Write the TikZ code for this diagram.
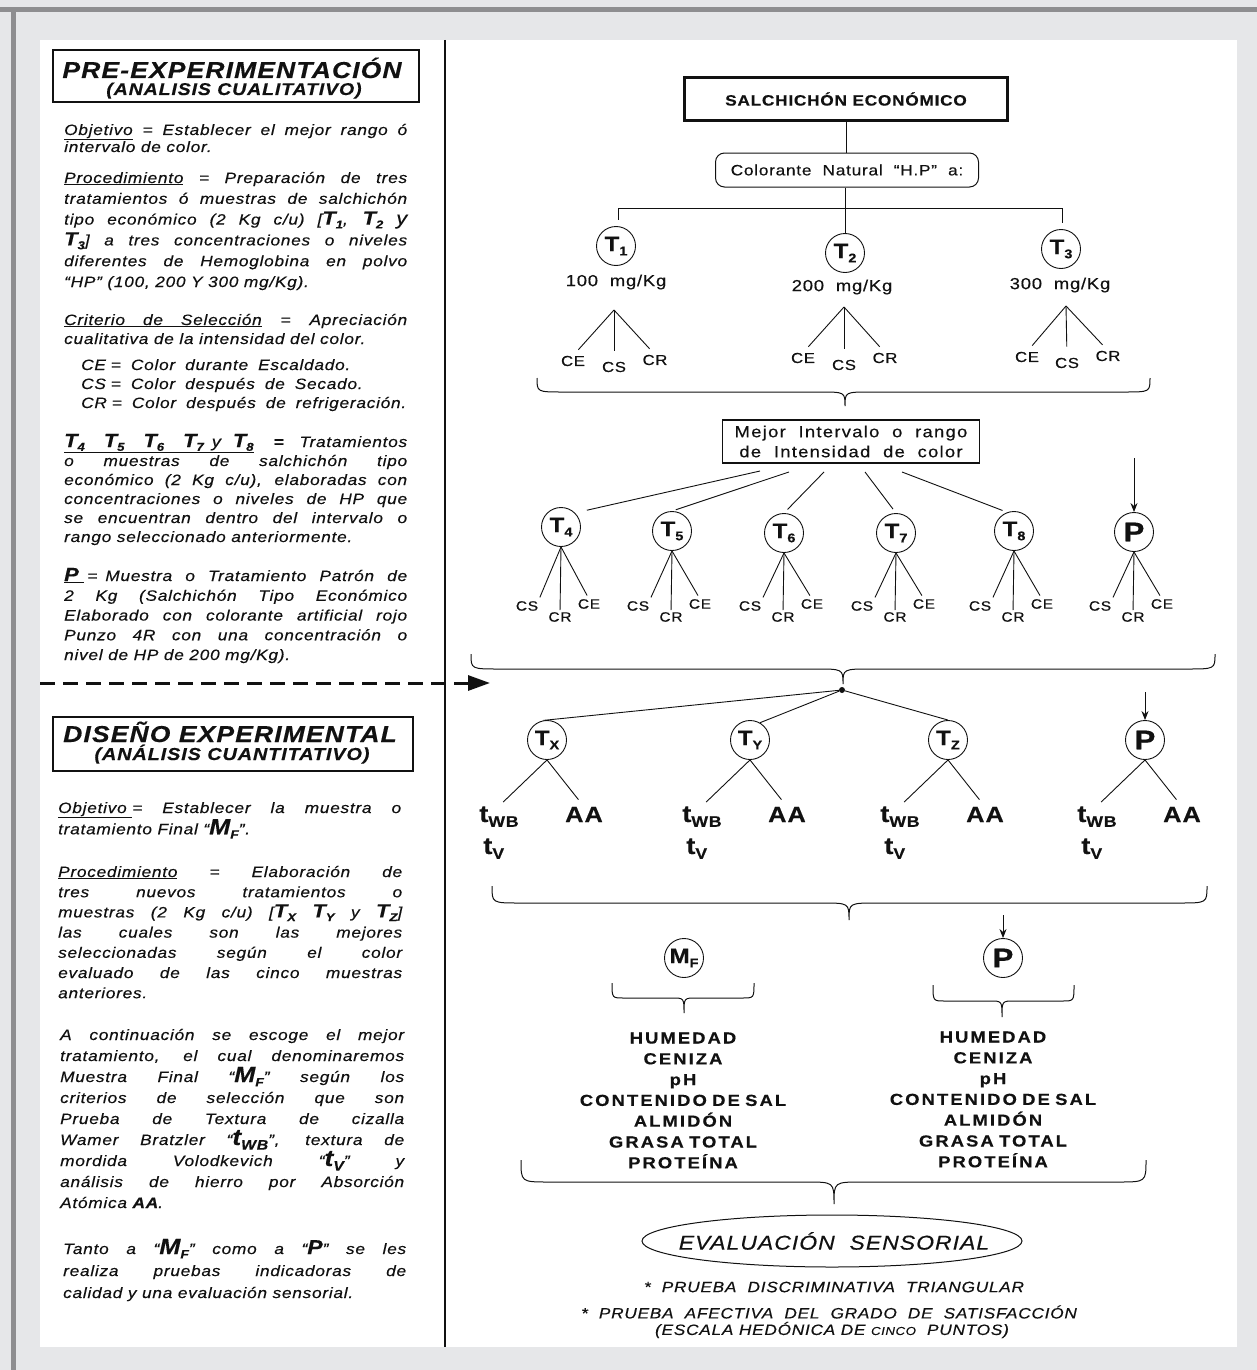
\documentclass[tikz,border=0pt]{standalone}
\usepackage{fontspec}
\setmainfont{Liberation Sans}[FakeStretch=1.15,LetterSpace=5,FakeBold=0.35]
\usepackage{graphicx}
\usetikzlibrary{arrows.meta,shapes.geometric}
\definecolor{ink}{HTML}{111111}
\definecolor{bggray}{HTML}{E6E7E9}
\definecolor{edgegray}{HTML}{8E8E90}
\newcommand\fs[2]{\fontsize{#1}{#2}\selectfont}
\newcommand\dn[2][0.6]{\raisebox{-0.2em}{\scalebox{#1}{#2}}}
\newcommand\BT[1]{{\bfseries\fs{19}{19}T\dn{#1}}}
\newcommand\MF{{\bfseries\fs{22}{22}M\dn[0.55]{F}}}
\newcommand\tWB{{\bfseries\fs{23}{23}t\dn[0.6]{WB}}}
\newcommand\tV{{\bfseries\fs{23}{23}t\dn[0.6]{V}}}
\newcommand\tWBr{{\bfseries\fs{24}{24}t\dn[0.64]{WB}}}
\newcommand\tVr{{\bfseries\fs{24}{24}t\dn[0.64]{V}}}
\newcommand\hbr[6]{% x1,x2,xm,y0,a,c
  \draw[brc] (#1,#4) .. controls (#1,#4+#5) .. (#1+#6,#4+#5) -- (#3-#6,#4+#5) .. controls (#3,#4+#5) .. (#3,#4+2*#5) .. controls (#3,#4+#5) .. (#3+#6,#4+#5) -- (#2-#6,#4+#5) .. controls (#2,#4+#5) .. (#2,#4);}
\setlength{\lineskiplimit}{-200pt}
\setlength{\lineskip}{0pt}
\tolerance=10000 \hbadness=10000 \hfuzz=100pt
\begin{document}
\begin{tikzpicture}[x=1pt,y=-1pt,
  every node/.style={inner sep=0pt, text=ink},
  body/.style={anchor=base west, text width=#1, align=justify},
  tc/.style={circle, draw=ink, line width=0.9pt, minimum size=39pt, inner sep=0pt, font=\bfseries\fs{21}{21}},
  ln/.style={draw=ink, line width=0.9pt},
  arr/.style={draw=ink, line width=0.9pt, -{Stealth[length=9pt,width=7pt]}},
  brc/.style={draw=ink, line width=1pt},
  lab1/.style={font=\fs{14.5}{14.5}},
  labs/.style={font=\fs{13.5}{13.5}},
  conc/.style={font=\fs{16}{16}},
  lst/.style={anchor=base, text width=300pt, align=center, font=\bfseries\fs{16}{20.8}\addfontfeature{LetterSpace=13}},
  hbox/.style={draw=ink, line width=2pt},
  dotn/.style={circle, fill=ink, minimum size=6pt}
]
% background and frame
\fill[bggray] (0,0) rectangle (1257,1370);
\fill[edgegray] (0,7) rectangle (1257,12);
\fill[edgegray] (11,7) rectangle (16,1370);
\fill[white] (40,40) rectangle (1237,1347);
\coordinate (vt) at (445,40); \coordinate (vb) at (445,1347);
\draw[ink, line width=2.8pt] (vt) -- (vb);

% ---------- left column ----------
\node[hbox, minimum width=366pt, minimum height=52pt] (h1) at (236,76) {};
\node[anchor=base, font=\bfseries\itshape\fs{23}{23}] (h1t) at (232,78) {PRE-EXPERIMENTACIÓN};
\node[anchor=base, font=\bfseries\itshape\fs{17}{17}] (h1s) at (234,95) {(ANALISIS CUALITATIVO)};

\node[body=343pt, font=\itshape\fs{15}{17}] (p1) at (64,135) {\underline{Objetivo} = Establecer el mejor rango ó\linebreak intervalo de color.};
\node[body=343pt, font=\itshape\fs{15}{20.8}] (p2) at (64,183) {\underline{Procedimiento} = Preparación de tres\linebreak tratamientos ó muestras de salchichón\linebreak tipo económico (2 Kg c/u) [\BT{1}, \BT{2} {\fs{19}{19}y}\linebreak \BT{3}] a tres concentraciones o niveles\linebreak diferentes de Hemoglobina en polvo\linebreak “HP” (100, 200 Y 300 mg/Kg).};
\node[body=343pt, font=\itshape\fs{15}{19}] (p3) at (64,325) {\underline{Criterio\hspace{18pt}de\hspace{18pt}Selección} = Apreciación\linebreak cualitativa de la intensidad del color.};
\node[anchor=base west, text width=330pt, align=left, font=\itshape\fs{15}{19}] (p3b) at (81,370) {CE =\ \ Color\ \ durante\ \ Escaldado.\\CS =\ \ Color\ \ después\ \ de\ \ Secado.\\CR =\ \ Color\ \ después\ \ de\ \ refrigeración.};
\node[body=343pt, font=\itshape\fs{15}{19}] (p4) at (64,447) {\underline{\BT{4}\hspace{19pt}\BT{5}\hspace{19pt}\BT{6}\hspace{19pt}\BT{7}\hspace{8pt}{\fs{16}{16}y}\hspace{12pt}\BT{8}}\hspace{20pt}\textbf{=}\hfill Tratamientos\linebreak o muestras de salchichón tipo\linebreak económico (2 Kg c/u), elaboradas con\linebreak concentraciones o niveles de HP que\linebreak se encuentran dentro del intervalo o\linebreak rango seleccionado anteriormente.};
\node[body=343pt, font=\itshape\fs{15}{19.75}] (p5) at (64,581) {\underline{{\bfseries\fs{19}{19}P}\ }\hspace{3pt}=\hspace{8pt}Muestra o Tratamiento Patrón de\linebreak 2 Kg (Salchichón Tipo Económico\linebreak Elaborado con colorante artificial rojo\linebreak Punzo 4R con una concentración o\linebreak nivel de HP de 200 mg/Kg).};

\node[hbox, minimum width=360pt, minimum height=54pt] (h2) at (233,744) {};
\node[anchor=base, font=\bfseries\itshape\fs{23}{23}] (h2t) at (230,742) {DISEÑO\ EXPERIMENTAL};
\node[anchor=base, font=\bfseries\itshape\fs{17.3}{17.3}] (h2s) at (232,760) {(ANÁLISIS CUANTITATIVO)};

\node[body=343pt, font=\itshape\fs{15}{20}] (p6) at (58,813) {\underline{Objetivo }= Establecer la muestra o\linebreak tratamiento Final “\MF”.};
\node[body=344pt, font=\itshape\fs{15}{20.2}] (p7) at (58,877) {\underline{Procedimiento} = Elaboración de\linebreak tres nuevos tratamientos o\linebreak muestras (2 Kg c/u) [\BT{X} \BT{Y} y \BT{Z}]\linebreak las cuales son las mejores\linebreak seleccionadas según el color\linebreak evaluado de las cinco muestras\linebreak anteriores.};
\node[body=344pt, font=\itshape\fs{15}{21}] (p8) at (60,1040) {A continuación se escoge el mejor\linebreak tratamiento, el cual denominaremos\linebreak Muestra Final “\MF” según los\linebreak criterios de selección que son\linebreak Prueba de Textura de cizalla\linebreak Wamer Bratzler “\tWB”, textura de\linebreak mordida Volodkevich “\tV” y\linebreak análisis de hierro por Absorción\linebreak Atómica \textbf{AA}.};
\node[body=343pt, font=\itshape\fs{15}{22}] (p9) at (63,1254) {Tanto a “\MF” como a “{\bfseries\fs{20}{20}P}” se les\linebreak realiza pruebas indicadoras de\linebreak calidad y una evaluación sensorial.};

% dashed arrow
\coordinate (da0) at (40,683); \coordinate (da1) at (490,683);
\draw[ink, line width=3pt, dash pattern=on 15pt off 8pt, -{Triangle[length=22pt,width=15pt]}] (da0) -- (da1);

% ---------- right column ----------
\node[draw=ink, line width=2.2pt, minimum width=323pt, minimum height=43pt, font=\bfseries\fs{15}{15}] (sal) at (846,99) {SALCHICHÓN ECONÓMICO};
\node[draw=ink, line width=1pt, rounded corners=9pt, minimum width=263pt, minimum height=34pt, font=\fs{15}{15}] (col) at (847,170) {Colorante\ \ Natural\ \ “H.P”\ \ a:};
\draw[ln] (sal.south) -- (sal.south |- col.north);

\node[tc] (t1) at (616,246) {T\dn{1}};
\node[tc] (t2) at (845,253) {T\dn{2}};
\node[tc] (t3) at (1061,249) {T\dn{3}};
\coordinate (bl) at (618,208); \coordinate (br) at (1062,208);
\coordinate (blt) at (618,220); \coordinate (brt) at (1062,223);
\draw[ln] (col.south -| t2.north) -- (t2.north);
\draw[ln] (bl) -- (br);
\draw[ln] (bl) -- (blt);
\draw[ln] (br) -- (brt);
\node[conc] (c1) at (616,282) {100\ \ mg/Kg};
\node[conc] (c2) at (842,287) {200\ \ mg/Kg};
\node[conc] (c3) at (1060,285) {300\ \ mg/Kg};

% CE CS CR trees, row 1
\coordinate (a1) at (614,310); \coordinate (a2) at (844,307); \coordinate (a3) at (1066,306);
\node[lab1] (ce1) at (573,361) {CE}; \node[lab1] (cs1) at (614,367) {CS}; \node[lab1] (cr1) at (655,360) {CR};
\node[lab1] (ce2) at (803,358) {CE}; \node[lab1] (cs2) at (844,365) {CS}; \node[lab1] (cr2) at (885,358) {CR};
\node[lab1] (ce3) at (1027,357) {CE}; \node[lab1] (cs3) at (1067,363) {CS}; \node[lab1] (cr3) at (1108,356) {CR};
\foreach \i in {1,2,3}{
  \draw[ln, shorten >=8pt] (a\i) -- (ce\i.north);
  \draw[ln, shorten >=11pt] (a\i) -- (cs\i.north);
  \draw[ln, shorten >=8pt] (a\i) -- (cr\i.north);
}
\hbr{537}{1150}{845}{378}{14}{26}

% Mejor box
\node[draw=ink, line width=1.2pt, minimum width=257pt, minimum height=43pt, align=center, font=\fs{16}{20}\addfontfeature{LetterSpace=8}] (mej) at (851,441.5) {Mejor\ \ Intervalo\ \ o\ \ rango\\de\ \ Intensidad\ \ de\ \ color};

% row 2
\foreach \n/\x/\y/\lbl in {t4/561/527/{T\dn{4}}, t5/672/531/{T\dn{5}}, t6/784/533/{T\dn{6}}, t7/896/533/{T\dn{7}}, t8/1014/531/{T\dn{8}}, pb/1134/532/{\fs{27}{27}P}}{
  \node[tc] (\n) at (\x,\y) {\lbl};
  \node[labs] (cs\n) at (\x-34,606) {CS};
  \node[labs] (cr\n) at (\x-1,617) {CR};
  \node[labs] (ce\n) at (\x+28,604) {CE};
  \draw[ln, shorten >=4pt] (\n.south) -- (cs\n.north east);
  \draw[ln, shorten >=2pt] (\n.south) -- (cr\n.north);
  \draw[ln, shorten >=4pt] (\n.south) -- (ce\n.north);
}
\coordinate (m4) at (760,471); \coordinate (m5) at (789,472); \coordinate (m6) at (824,472);
\coordinate (m7) at (865,472); \coordinate (m8) at (902,472);
\draw[ln, shorten >=12pt] (m4) -- (t4.45);
\draw[ln, shorten >=4pt] (m5) -- (t5.north);
\draw[ln, shorten >=5pt] (m6) -- (t6.north);
\draw[ln, shorten >=5pt] (m7) -- (t7.north);
\draw[ln, shorten >=5pt] (m8) -- (t8.110);
\coordinate (pba) at (1134,458);
\draw[arr] (pba) -- (pb.north);
\hbr{471}{1215}{843}{654}{15}{28}

% row 3
\node[dotn] (dot) at (842,690) {};
\foreach \n/\x/\lbl in {tx/547/{T\dn{X}}, ty/750/{T\dn{Y}}, tz/948/{T\dn{Z}}, pc/1145/{\fs{27}{27}P}}{
  \node[tc] (\n) at (\x,740) {\lbl};
  \node[anchor=base west] (wb\n) at (\x-68,822) {\tWBr};
  \node[anchor=base, font=\bfseries\fs{22}{22}] (aa\n) at (\x+37,822) {AA};
  \node[anchor=base west] (tv\n) at (\x-64,854) {\tVr};
  \draw[ln, shorten >=6pt] (\n.south) -- (wb\n.north);
  \draw[ln, shorten >=9pt] (\n.south) -- (aa\n.north);
}
\draw[ln] (dot) -- (tx.100);
\draw[ln] (dot) -- (ty.60);
\draw[ln] (dot) -- (tz.north);
\coordinate (pca) at (1145,692);
\draw[arr] (pca) -- (pc.north);
\hbr{492}{1207}{849}{886}{17}{28}

% row 4
\node[tc] (mf) at (684,958) {M\dn{F}};
\node[tc] (pd) at (1003,958) {\fs{27}{27}P};
\coordinate (pda) at (1003,915);
\draw[arr] (pda) -- (pd.north);
\hbr{612}{754}{684}{983}{15}{12}
\hbr{933}{1074}{1002}{985}{16}{12}
\node[lst] (lm) at (683,1043.5) {HUMEDAD\\CENIZA\\pH\\CONTENIDO DE SAL\\ALMIDÓN\\GRASA TOTAL\\PROTEÍNA};
\node[lst] (lp) at (993,1042.5) {HUMEDAD\\CENIZA\\pH\\CONTENIDO DE SAL\\ALMIDÓN\\GRASA TOTAL\\PROTEÍNA};
\hbr{521}{1146}{834}{1160}{22}{28}

% sensory evaluation
\node[ellipse, draw=ink, line width=1pt, minimum width=380pt, minimum height=52pt] (ev) at (832,1241) {};
\node[font=\itshape\fs{20}{20}] (evt) at (834,1241) {EVALUACIÓN\ \ SENSORIAL};
\node[font=\itshape\fs{15}{15}] (pr1) at (834,1287) {*\ \ PRUEBA\ \ DISCRIMINATIVA\ \ TRIANGULAR};
\node[font=\itshape\fs{15}{15}] (pr2) at (829,1312) {*\ \ PRUEBA\ \ AFECTIVA\ \ DEL\ \ GRADO\ \ DE\ \ SATISFACCIÓN};
\node[font=\itshape\fs{15}{15}] (pr3) at (832,1330) {(ESCALA HEDÓNICA DE {\fs{11.5}{11.5}CINCO}\ \ PUNTOS)};
\end{tikzpicture}
\end{document}
